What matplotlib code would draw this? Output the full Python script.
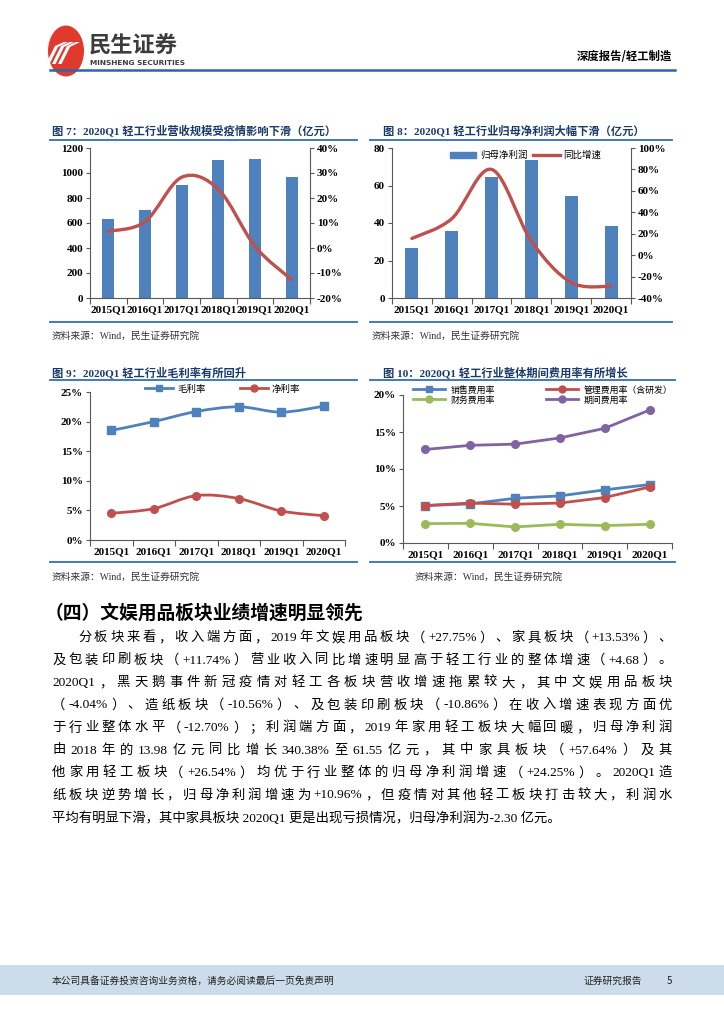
import numpy as np
import matplotlib
matplotlib.use('Agg')
import matplotlib.pyplot as plt
from matplotlib.path import Path
from matplotlib.patches import PathPatch, Circle, Rectangle, Polygon
from matplotlib.lines import Line2D

# ---------------- data ----------------
quarters = ['2015Q1', '2016Q1', '2017Q1', '2018Q1', '2019Q1', '2020Q1']
revenue = [635, 701, 901, 1107, 1115, 971]            # 亿元
revenue_yoy = [6.7, 10.5, 28.3, 23.5, 0.7, -12.7]     # %
profit = [26.5, 36.0, 64.7, 73.7, 54.5, 38.5]         # 亿元
profit_yoy = [15.6, 34.0, 80.0, 13.0, -25.5, -29.0]   # %
gross_margin = [18.5, 20.0, 21.7, 22.5, 21.6, 22.6]
net_margin = [4.5, 5.3, 7.5, 7.0, 4.9, 4.1]
selling_rate = [5.06, 5.28, 6.05, 6.37, 7.18, 7.90]
admin_rate = [5.06, 5.40, 5.24, 5.40, 6.14, 7.58]
finance_rate = [2.62, 2.66, 2.17, 2.53, 2.35, 2.53]
period_rate = [12.64, 13.20, 13.36, 14.20, 15.50, 17.97]

rev_ticks = [0, 200, 400, 600, 800, 1000, 1200]
rev_yoy_ticks = [-20, -10, 0, 10, 20, 30, 40]
prof_ticks = [0, 20, 40, 60, 80]
prof_yoy_ticks = [-40, -20, 0, 20, 40, 60, 80, 100]
margin_ticks = [0, 5, 10, 15, 20, 25]
exp_ticks = [0, 5, 10, 15, 20]

titles = ['图 7：2020Q1 轻工行业营收规模受疫情影响下滑（亿元）',
          '图 8：2020Q1 轻工行业归母净利润大幅下滑（亿元）',
          '图 9：2020Q1 轻工行业毛利率有所回升',
          '图 10：2020Q1 轻工行业整体期间费用率有所增长']
source = '资料来源：Wind，民生证券研究院'

body_lines = [
    '分板块来看，收入端方面，2019 年文娱用品板块（+27.75%）、家具板块（+13.53%）、',
    '及包装印刷板块（+11.74%）营业收入同比增速明显高于轻工行业的整体增速（+4.68）。',
    '2020Q1，黑天鹅事件新冠疫情对轻工各板块营收增速拖累较大，其中文娱用品板块',
    '（-4.04%）、造纸板块（-10.56%）、及包装印刷板块（-10.86%）在收入增速表现方面优',
    '于行业整体水平（-12.70%）；利润端方面，2019 年家用轻工板块大幅回暖，归母净利润',
    '由 2018 年的 13.98 亿元同比增长 340.38%至 61.55 亿元，其中家具板块（+57.64%）及其',
    '他家用轻工板块（+26.54%）均优于行业整体的归母净利润增速（+24.25%）。2020Q1 造',
    '纸板块逆势增长，归母净利润增速为+10.96%，但疫情对其他轻工板块打击较大，利润水',
    '平均有明显下滑，其中家具板块 2020Q1 更是出现亏损情况，归母净利润为-2.30 亿元。',
]

# ---------------- style ----------------
BLUE = '#4F81BD'
RED = '#C0504D'
GREEN = '#9BBB59'
PURPLE = '#8064A2'
NAVY = '#1B3A6B'
LINEBLUE = '#2F6EBA'
SPINE = '#595959'
SERIF = ['Liberation Serif', 'Noto Sans CJK SC', 'DejaVu Sans']
CJK = ['Noto Sans CJK SC', 'DejaVu Sans']
plt.rcParams['font.family'] = SERIF
plt.rcParams['axes.unicode_minus'] = False

W, H = 724, 1024
fig = plt.figure(figsize=(W / 100, H / 100), dpi=100)
fig.patch.set_facecolor('white')


def fx(x):
    return x / W


def fy(y):
    return 1 - y / H


def axes_px(l, t, r, b):
    return fig.add_axes([l / W, 1 - b / H, (r - l) / W, (b - t) / H])


def hline(x0, x1, y, color=LINEBLUE, lw=1.3):
    fig.add_artist(Line2D([fx(x0), fx(x1)], [fy(y), fy(y)], color=color, lw=lw,
                          transform=fig.transFigure))


def smooth_path(xs, ys):
    pts = np.column_stack([xs, ys]).astype(float)
    n = len(pts)
    verts = [pts[0]]
    codes = [Path.MOVETO]
    for i in range(n - 1):
        p0 = pts[i - 1] if i > 0 else pts[i]
        p1 = pts[i]
        p2 = pts[i + 1]
        p3 = pts[i + 2] if i + 2 < n else pts[i + 1]
        c1 = p1 + (p2 - p0) / 6.0
        c2 = p2 - (p3 - p1) / 6.0
        verts += [c1, c2, p2]
        codes += [Path.CURVE4] * 3
    return Path(verts, codes)


def cat_axis(ax, n):
    ax.set_xlim(-0.5, n - 0.5)
    ax.set_xticks(np.arange(-0.5, n, 1.0))
    ax.set_xticklabels([])
    ax.set_xticks(np.arange(n), minor=True)
    ax.set_xticklabels(quarters, minor=True, fontsize=8, fontweight='bold',
                       family=SERIF)
    ax.tick_params(axis='x', which='major', direction='out', length=4,
                   color=SPINE, width=0.8)
    ax.tick_params(axis='x', which='minor', length=0, pad=5)
    ax.tick_params(axis='y', direction='out', length=3, color=SPINE, width=0.8,
                   labelsize=8, pad=2)
    for lab in ax.get_yticklabels():
        lab.set_fontweight('bold')
    for s in ['left', 'bottom', 'right', 'top']:
        ax.spines[s].set_color(SPINE)
        ax.spines[s].set_linewidth(0.8)
    ax.spines['top'].set_visible(False)
    ax.set_facecolor('none')


def pct_labels(ticks):
    return ['%d%%' % t for t in ticks]


x = np.arange(len(quarters))

# ---------------- header ----------------
fig.add_artist(Circle((fx(66), fy(51)), 18 / W, transform=fig.transFigure,
                      facecolor='#E03A2F', edgecolor='none'))
for dx in [-8, -2, 4]:
    fig.add_artist(Polygon([[fx(54 + dx), fy(64)], [fx(57.5 + dx), fy(64)],
                            [fx(66 + dx), fy(47)], [fx(76 + dx), fy(42)],
                            [fx(72 + dx), fy(42)], [fx(63 + dx), fy(46)]],
                           closed=True, transform=fig.transFigure,
                           facecolor='white', edgecolor='none'))
fig.text(fx(89), fy(46), '民生证券', fontsize=16, fontweight='bold',
         color='#3C3C3C', family=CJK, va='center', ha='left')
fig.text(fx(90), fy(63), 'MINSHENG SECURITIES', fontsize=5.3, fontweight='bold',
         color='#3C3C3C', family=['DejaVu Sans'], va='center', ha='left')
fig.text(fx(672), fy(57), '深度报告/轻工制造', fontsize=8.2, fontweight='bold',
         color='black', family=CJK, va='center', ha='right')
hline(50, 675, 70, color='#2E64AA', lw=1.8)

# ---------------- chart titles & frames ----------------
frames = [(52, 50, 357, 130, 140, 322, 52, 336),
          (383, 370, 672, 130, 140, 322, 372, 336),
          (52, 50, 357, 372, 380, 562, 52, 577),
          (383, 370, 675, 372, 380, 562, 415, 577)]
for (tx, l, r, ty, uy, by, sx, sy), t in zip(frames, titles):
    fig.text(fx(tx), fy(ty), t, fontsize=8.1, fontweight='bold', color=NAVY,
             family=SERIF, va='center', ha='left')
    hline(l, r, uy)
    hline(l, r, by)
    fig.text(fx(sx), fy(sy), source, fontsize=7, color='#333333',
             family=SERIF, va='center', ha='left')

# ---------------- chart 7 ----------------
ax7 = axes_px(90, 148, 310, 298)
ax7.bar(x, revenue, width=0.33, color=BLUE, zorder=2)
ax7.set_ylim(0, 1200)
ax7.set_yticks(rev_ticks)
cat_axis(ax7, len(quarters))
ax7.spines['right'].set_visible(False)
ax7b = ax7.twinx()
ax7b.set_ylim(-20, 40)
ax7b.set_yticks(rev_yoy_ticks)
ax7b.set_yticklabels(pct_labels(rev_yoy_ticks), fontsize=8, fontweight='bold')
ax7b.tick_params(axis='y', direction='out', length=3, color=SPINE, width=0.8, pad=2)
for s in ['left', 'bottom', 'top']:
    ax7b.spines[s].set_visible(False)
ax7b.spines['right'].set_color(SPINE)
ax7b.spines['right'].set_linewidth(0.8)
ax7b.add_patch(PathPatch(smooth_path(x, revenue_yoy), facecolor='none',
                         edgecolor=RED, lw=2.4, capstyle='round', zorder=3))

# ---------------- chart 8 ----------------
ax8 = axes_px(392, 148, 631, 298)
ax8.bar(x, profit, width=0.33, color=BLUE, zorder=2, label='归母净利润')
ax8.set_ylim(0, 80)
ax8.set_yticks(prof_ticks)
cat_axis(ax8, len(quarters))
ax8.spines['right'].set_visible(False)
ax8b = ax8.twinx()
ax8b.set_ylim(-40, 100)
ax8b.set_yticks(prof_yoy_ticks)
ax8b.set_yticklabels(pct_labels(prof_yoy_ticks), fontsize=8, fontweight='bold')
ax8b.tick_params(axis='y', direction='out', length=3, color=SPINE, width=0.8, pad=2)
for s in ['left', 'bottom', 'top']:
    ax8b.spines[s].set_visible(False)
ax8b.spines['right'].set_color(SPINE)
ax8b.spines['right'].set_linewidth(0.8)
ax8b.add_patch(PathPatch(smooth_path(x, profit_yoy), facecolor='none',
                         edgecolor=RED, lw=2.4, capstyle='round', zorder=3))
h8 = [Rectangle((0, 0), 1, 1, color=BLUE), Line2D([], [], color=RED, lw=2.4)]
leg8 = ax8b.legend(h8, ['归母净利润', '同比增速'], loc='upper center',
                   bbox_to_anchor=(0.56, 1.04), ncol=2, frameon=False,
                   prop={'family': CJK, 'size': 6.8}, handlelength=2.8,
                   handleheight=0.6, columnspacing=0.6, handletextpad=0.4)

# ---------------- chart 9 ----------------
ax9 = axes_px(90, 392, 345, 540)
ax9.set_ylim(0, 25)
ax9.set_yticks(margin_ticks)
ax9.set_yticklabels(pct_labels(margin_ticks))
cat_axis(ax9, len(quarters))
ax9.spines['right'].set_visible(False)
for vals, col, mk in [(gross_margin, BLUE, 's'), (net_margin, RED, 'o')]:
    ax9.add_patch(PathPatch(smooth_path(x, vals), facecolor='none', edgecolor=col,
                            lw=2.0, zorder=3, clip_on=False))
    ax9.plot(x, vals, linestyle='none', marker=mk, ms=5.5, color=col, zorder=4,
             clip_on=False)
h9 = [Line2D([], [], color=BLUE, lw=2.0, marker='s', ms=5),
      Line2D([], [], color=RED, lw=2.0, marker='o', ms=5)]
ax9.legend(h9, ['毛利率', '净利率'], loc='center', bbox_to_anchor=(0.52, 1.02),
           ncol=2, frameon=False, prop={'family': CJK, 'size': 6.8},
           handlelength=3.0, columnspacing=3.6, handletextpad=0.4)

# ---------------- chart 10 ----------------
ax10 = axes_px(403, 395, 672, 543)
ax10.set_ylim(0, 20)
ax10.set_yticks(exp_ticks)
ax10.set_yticklabels(pct_labels(exp_ticks))
cat_axis(ax10, len(quarters))
ax10.spines['right'].set_visible(False)
series10 = [(selling_rate, BLUE, 's', '销售费用率'),
            (finance_rate, GREEN, 'o', '财务费用率'),
            (admin_rate, RED, 'o', '管理费用率（含研发）'),
            (period_rate, PURPLE, 'o', '期间费用率')]
h10 = []
for vals, col, mk, lab in series10:
    ax10.plot(x, vals, color=col, lw=2.0, marker=mk, ms=5.5, zorder=3,
              clip_on=False)
    h10.append(Line2D([], [], color=col, lw=2.0, marker=mk, ms=5))
ax10.legend(h10, [s[3] for s in series10], loc='center',
            bbox_to_anchor=(0.52, 1.0), ncol=2, frameon=False,
            prop={'family': CJK, 'size': 6.4}, handlelength=3.6,
            columnspacing=5.8, handletextpad=0.6, labelspacing=0.1)

# ---------------- body text ----------------
fig.text(fx(45), fy(613), '（四）文娱用品板块业绩增速明显领先', fontsize=13.5,
         fontweight='bold', color='black', family=CJK, va='center', ha='left')

BODY_FS = 9.6
renderer = fig.canvas.get_renderer()


def tokenize(s):
    toks, run = [], ''
    for ch in s:
        if ch == ' ':
            if run:
                toks.append(run)
                run = ''
        elif ord(ch) < 128:
            run += ch
        else:
            if run:
                toks.append(run)
                run = ''
            toks.append(ch)
    if run:
        toks.append(run)
    return toks


def justify(s, x0, x1, y):
    toks = tokenize(s)
    ts = [fig.text(0, fy(y), t, fontsize=BODY_FS, family=SERIF, color='black',
                   va='center', ha='left') for t in toks]
    ws = [t.get_window_extent(renderer).width for t in ts]
    gap = (x1 - x0 - sum(ws)) / (len(ts) - 1)
    cx = x0
    for t, w in zip(ts, ws):
        t.set_x(fx(cx))
        cx += w + gap


ys = [638 + 22.5 * i for i in range(len(body_lines))]
for i, (line, yy) in enumerate(zip(body_lines, ys)):
    x0 = 78 if i == 0 else 52
    if i == len(body_lines) - 1:
        fig.text(fx(52), fy(yy), line, fontsize=BODY_FS, family=SERIF,
                 color='black', va='center', ha='left')
    else:
        justify(line, x0, 672, yy)

# ---------------- footer ----------------
fig.add_artist(Rectangle((0, fy(995)), 1, (995 - 965) / H, transform=fig.transFigure,
                         facecolor='#CDDCEB', edgecolor='none'))
fig.text(fx(52), fy(981), '本公司具备证券投资咨询业务资格，请务必阅读最后一页免责声明',
         fontsize=7, family=CJK, color='#222222', va='center', ha='left')
fig.text(fx(583), fy(981), '证券研究报告', fontsize=7, family=CJK, color='#222222',
         va='center', ha='left')
fig.text(fx(667), fy(981), '5', fontsize=7, family=CJK, color='#222222',
         va='center', ha='left')

fig.savefig('out.png', dpi=100, facecolor='white')
